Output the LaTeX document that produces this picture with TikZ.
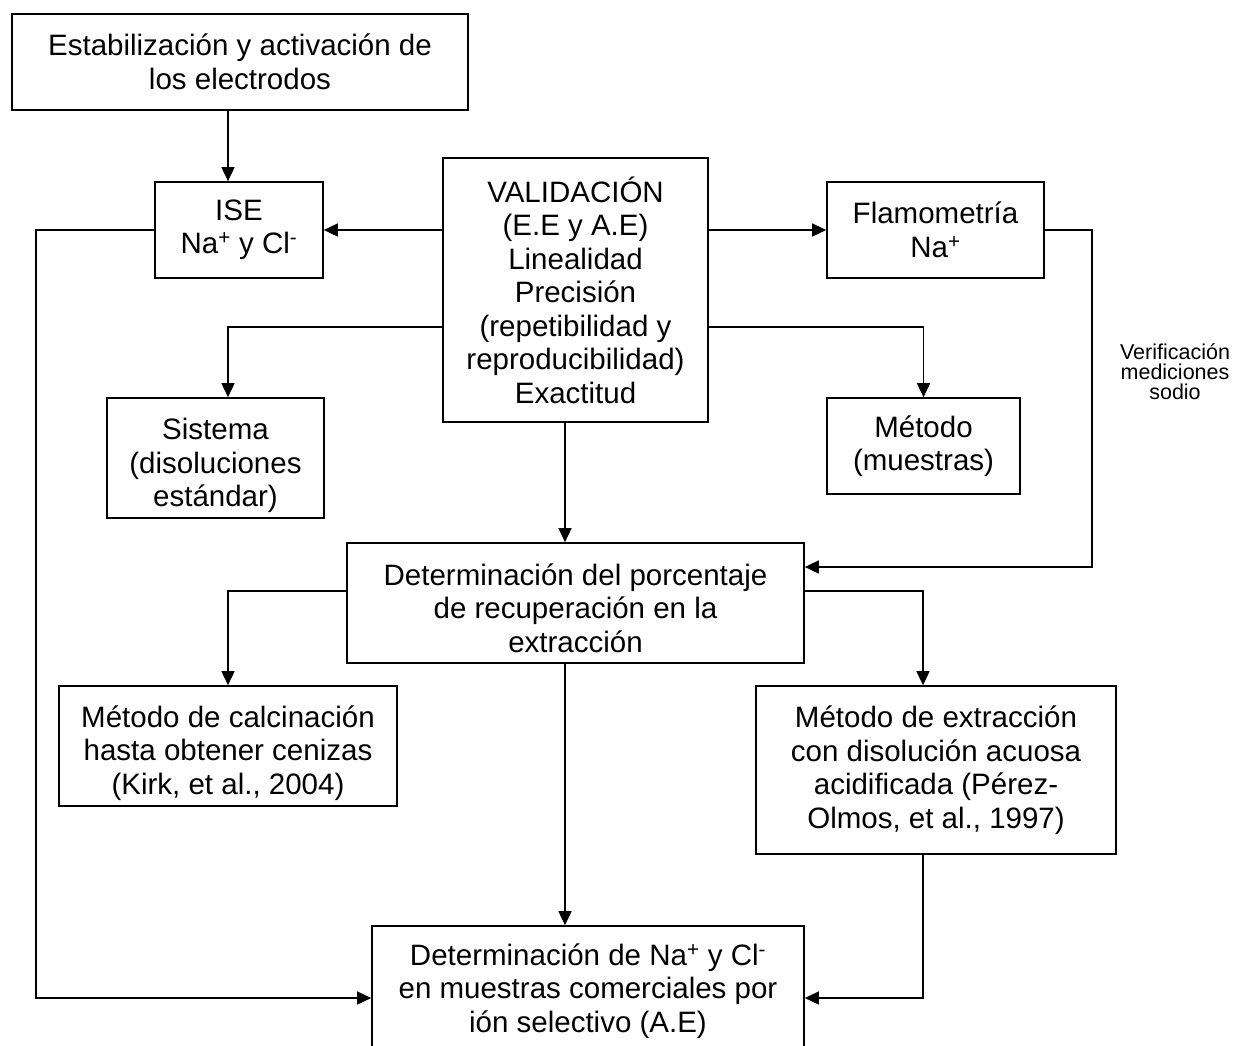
\documentclass[tikz,border=0pt]{standalone}
\usepackage{fontspec}
\setmainfont{Liberation Sans}
\usetikzlibrary{arrows.meta}
\begin{document}
\begin{tikzpicture}[x=1pt,y=-1pt,
  box/.style={draw, line width=1.7pt, inner sep=0pt, align=center, font=\fontsize{29.5}{33.5}\selectfont},
  arr/.style={line width=1.7pt, -{Triangle[length=14pt,width=13pt]}},
  small/.style={align=center, inner sep=0pt, font=\fontsize{21.5}{20}\selectfont}]
\useasboundingbox (0,0) rectangle (1234,1045);
\clip (0,0) rectangle (1234,1045);
% boxes
\node[box, minimum width=456pt, minimum height=96pt] (top) at (240,62) {Estabilización y activación de\\los electrodos};
\node[box, minimum width=168pt, minimum height=96pt] (ise) at (239,230) {ISE\\Na\textsuperscript{+} y Cl\textsuperscript{-}};
\node[box, minimum width=265pt, minimum height=264pt] (val) at (575.5,290) {VALIDACIÓN\\(E.E y A.E)\\Linealidad\\Precisión\\(repetibilidad y\\reproducibilidad)\\Exactitud};
\node[box, minimum width=217pt, minimum height=96pt] (flam) at (935.5,230) {Flamometría\\Na\textsuperscript{+}};
\node[box, minimum width=217pt, minimum height=120pt] (sis) at (215.5,458) {\rule{0pt}{37pt}Sistema\\(disoluciones\\estándar)};
\node[box, minimum width=193pt, minimum height=96pt] (met) at (923.5,446) {Método\\(muestras)};
\node[box, minimum width=457pt, minimum height=120pt] (det) at (575.5,603) {\rule{0pt}{32pt}Determinación del porcentaje\\de recuperación en la\\extracción};
\node[box, minimum width=338pt, minimum height=120pt] (cal) at (228,746) {\rule{0pt}{36pt}Método de calcinación\\hasta obtener cenizas\\(Kirk, et al., 2004)};
\node[box, minimum width=360pt, minimum height=168pt] (ext) at (936,770) {Método de extracción\\con disolución acuosa\\acidificada (Pérez-\\Olmos, et al., 1997)};
\node[box, minimum width=432pt, minimum height=130pt] (bot) at (588,991) {Determinación de Na\textsuperscript{+} y Cl\textsuperscript{-}\\en muestras comerciales por\\ión selectivo (A.E)};
\node[small] (vlab) at (1175,372) {Verificación\\mediciones\\sodio};
% helper coordinates
\coordinate (c228) at (228,0);
\coordinate (cm) at (565,0);
\coordinate (bs) at (228,327);
\coordinate (vr) at (1092,567);
\coordinate (dl) at (228,591);
\coordinate (dr) at (923,591);
\coordinate (ll) at (36,998);
% connectors
\draw[arr] (top.south -| c228) -- (ise.north -| c228);
\draw[arr] (val.west |- ise.east) -- (ise.east);
\draw[arr] (val.east |- flam.west) -- (flam.west);
\draw[arr] (flam.east) -| (vr) -- (det.east |- vr);
\draw[arr] (val.west |- bs) -| (sis.north -| bs);
\draw[arr] (val.east |- bs) -| (met.north);
\draw[arr] (val.south -| cm) -- (det.north -| cm);
\draw[arr] (det.west |- dl) -| (cal.north);
\draw[arr] (det.east |- dr) -| (ext.north -| dr);
\draw[arr] (det.south -| cm) -- (bot.north -| cm);
\draw[arr] (ise.west) -| (ll) -- (bot.west |- ll);
\draw[arr] (ext.south -| dr) -- (dr |- ll) -- (bot.east |- ll);
\end{tikzpicture}
\end{document}
